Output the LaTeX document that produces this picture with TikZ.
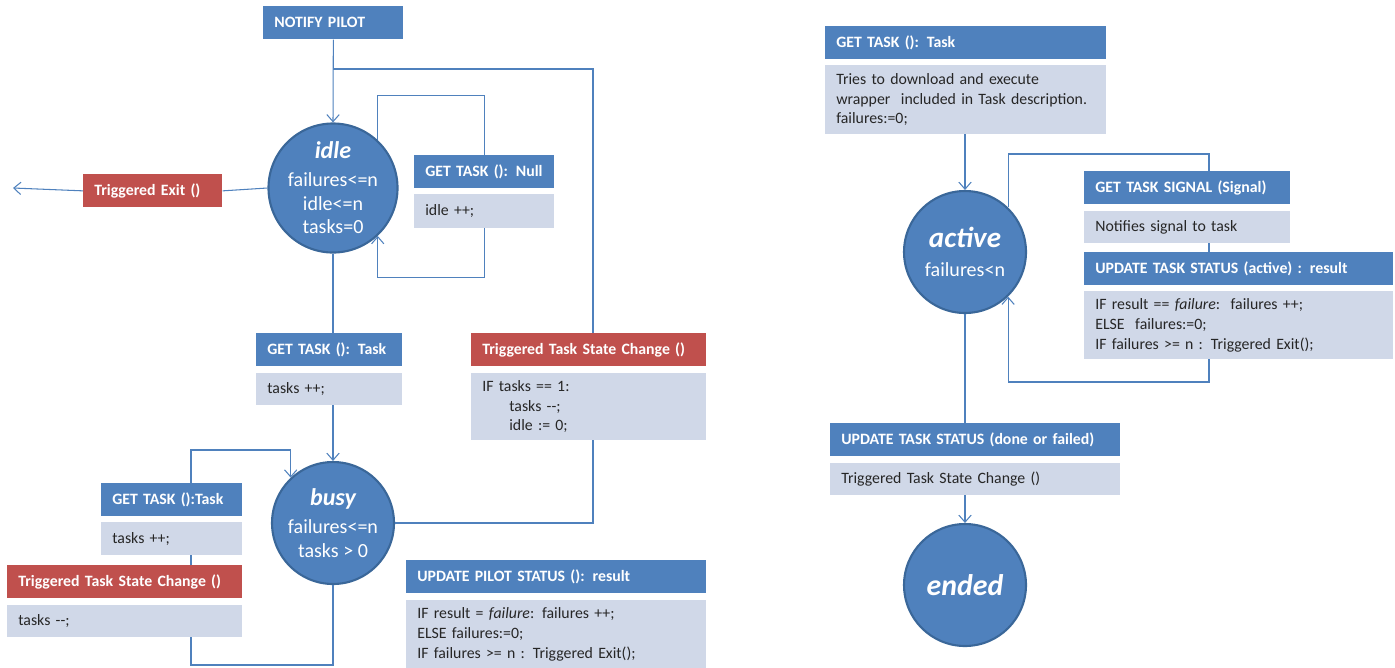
\documentclass[tikz,border=0pt]{standalone}
\usepackage{fontspec}
\setmainfont{Carlito}
\usetikzlibrary{positioning,arrows.meta}

\definecolor{hblue}{HTML}{4F81BD}
\definecolor{hred}{HTML}{C0504D}
\definecolor{bgrey}{HTML}{D0D8E8}
\definecolor{cedge}{HTML}{3A6799}
\definecolor{wireblue}{HTML}{4F81BD}

\tikzset{
  box/.style={anchor=north west, inner xsep=0.22cm, inner ysep=0pt, align=left,
    font=\fontsize{9}{11.3}\selectfont},
  head/.style={box, fill=hblue, text=white, minimum height=0.66cm,
    font=\fontsize{9}{11.3}\selectfont\bfseries},
  alert/.style={head, fill=hred},
  body/.style={box, fill=bgrey, text=black!85},
  state/.style={circle, fill=hblue, draw=cedge, line width=1.2pt, minimum size=2.44cm,
    inner sep=0pt, text=white, align=center, font=\fontsize{11.4}{13.6}\selectfont},
  wire/.style={draw=wireblue, line width=0.6pt},
}
\newcommand{\stname}[2]{{\fontsize{#1}{#1}\selectfont\bfseries\itshape #2}}

\begin{document}
\begin{tikzpicture}[x=0.02cm, y=-0.02cm, >={Straight Barb[length=4pt,width=7pt]}]
\useasboundingbox (0,0) rectangle (1395,667);

% pilot: idle
\node[head, text width=2.36cm] (notify) at (263,6) {NOTIFY PILOT};
\node[state] (idle) at (333,188) {\stname{13.7}{idle}\\[2pt]failures<=n\\idle<=n\\tasks=0};
\node[alert, text width=2.34cm] (exit) at (83,174) {Triggered Exit ()};
\coordinate (away) at (13,188);

\node[head, text width=2.36cm] (gtnull) at (414,155) {GET TASK (): Null};
\node[body, text width=2.36cm, minimum height=0.68cm,
  below right=0.1cm and 0cm of gtnull.south west] (gtnullb) {idle ++;};

\node[head, text width=2.48cm] (gtt) at (256,333) {GET TASK (): Task};
\node[body, text width=2.48cm, minimum height=0.64cm,
  below right=0.12cm and 0cm of gtt.south west] (gttb) {tasks ++;};

\node[alert, text width=4.26cm] (ttsc) at (471,333) {Triggered Task State Change ()};
\node[body, text width=4.26cm, minimum height=1.34cm,
  below right=0.12cm and 0cm of ttsc.south west] (ttscb)
  {IF tasks == 1:\\\hspace*{0.54cm}tasks {-}{-};\\\hspace*{0.54cm}idle := 0;};

% pilot: busy
\node[state] (busy) at (333,523) {\stname{13.7}{busy}\\[2pt]failures<=n\\tasks > 0};

\node[head, text width=2.38cm] (gtt2) at (101,483) {GET TASK ():Task};
\node[body, text width=2.38cm, minimum height=0.66cm,
  below right=0.1cm and 0cm of gtt2.south west] (gtt2b) {tasks ++;};

\node[alert, text width=4.26cm] (ttsc2) at (7,565) {Triggered Task State Change ()};
\node[body, text width=4.26cm, minimum height=0.64cm,
  below right=0.12cm and 0cm of ttsc2.south west] (ttsc2b) {tasks {-}{-};};

\node[head, text width=5.56cm] (ups) at (406,560) {UPDATE PILOT STATUS (): result};
\node[body, text width=5.56cm, minimum height=1.36cm,
  below right=0.12cm and 0cm of ups.south west] (upsb)
  {IF result = \textit{failure}: failures ++;\\ELSE failures:=0;\\IF failures >= n : Triggered Exit();};

% task states
\node[head, text width=5.18cm] (rgt) at (825,26) {GET TASK (): Task};
\node[body, text width=5.18cm, minimum height=1.38cm,
  below right=0.1cm and 0cm of rgt.south west] (rgtb)
  {Tries to download and execute\\wrapper\ \ included in Task description.\\failures:=0;};

\node[state] (active) at (965,252) {\stname{16.5}{active}\\[3pt]failures<n};

\node[head, text width=3.68cm] (sig) at (1084,171) {GET TASK SIGNAL (Signal)};
\node[body, text width=3.68cm, minimum height=0.64cm,
  below right=0.12cm and 0cm of sig.south west] (sigb) {Notifies signal to task};

\node[head, text width=5.74cm] (uts) at (1084,252) {UPDATE TASK STATUS (active) : result};
\node[body, text width=5.74cm, minimum height=1.36cm,
  below right=0.1cm and 0cm of uts.south west] (utsb)
  {IF result == \textit{failure}:\ \ failures ++;\\ELSE\ \ failures:=0;\\IF failures >= n : Triggered Exit();};

\node[head, text width=5.36cm] (utsd) at (830,423) {UPDATE TASK STATUS (done or failed)};
\node[body, text width=5.36cm, minimum height=0.64cm,
  below right=0.12cm and 0cm of utsd.south west] (utsdb) {Triggered Task State Change ()};

\node[state] (ended) at (965,585) {\stname{17}{ended}};

% connectors, left
\draw[wire,->] (notify.south) -- (idle.north);
\draw[wire] (idle.west) -- (exit.east);
\draw[wire,->] (exit.west) -- (away);
\draw[wire] (idle.47) -- ++(0,-45) -| (gtnull.north);
\draw[wire,->] (gtnullb.south) -- ++(0,49) -| (idle.-47);
\draw[wire] (idle.south) -- (idle.south |- gtt.north);
\draw[wire,->] (idle.south |- gttb.south) -- (busy.north);

\coordinate (rx) at (593,69);
\draw[wire] (busy.east) -| (ttscb.south -| rx);
\draw[wire] (ttsc.north -| rx) -- (rx) -- (rx -| notify.south);

\coordinate (lbot) at (191,665);
\coordinate (ltop) at (191,450);
\draw[wire] (busy.south) |- (lbot) -- (lbot |- ttsc2b.south);
\draw[wire] (ttsc2.north -| lbot) -- (gtt2b.south -| lbot);
\draw[wire,->] (gtt2.north -| lbot) -- (ltop) -| (busy.133);

% connectors, right
\coordinate (sx) at (1209,154);
\coordinate (sb) at (1209,382);
\draw[wire,->] (rgtb.south -| active.north) -- (active.north);
\draw[wire] (active.46) |- (sx) -- (sx |- sig.north);
\draw[wire] (sigb.south -| sx) -- (uts.north -| sx);
\draw[wire,->] (utsb.south -| sx) -- (sb) -| (active.-46);
\draw[wire] (active.south) -- (active.south |- utsd.north);
\draw[wire,->] (ended.north |- utsdb.south) -- (ended.north);

\end{tikzpicture}
\end{document}
